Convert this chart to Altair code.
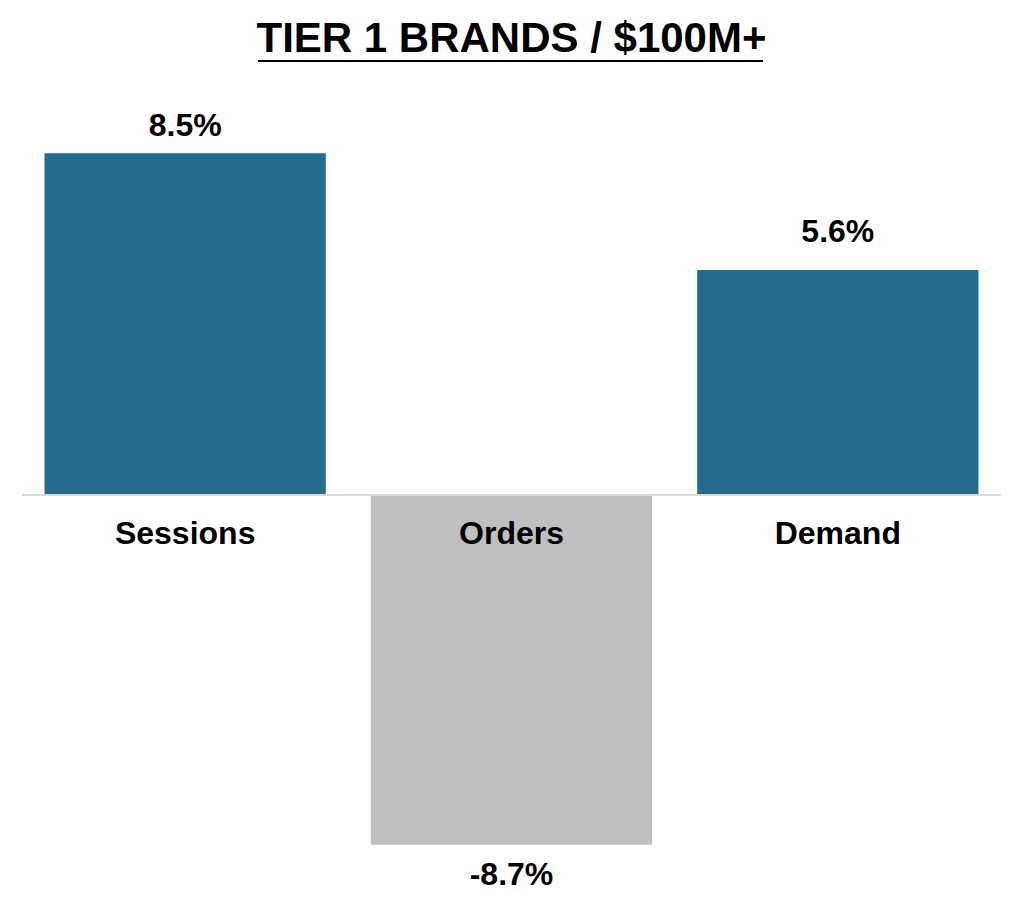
import altair as alt
import pandas as pd

categories = ["Sessions", "Orders", "Demand"]
values = [8.5, -8.7, 5.6]
value_labels = ["8.5%", "-8.7%", "5.6%"]
bar_colors = ["#246B8E", "#BFBFBF", "#246B8E"]

df = pd.DataFrame({"cat": categories, "val": values, "label": value_labels,
                   "color": bar_colors, "zero": [0, 0, 0]})

FONT = "Liberation Sans"
FS = 32

x = alt.X("cat:N", sort=categories, axis=None,
          scale=alt.Scale(paddingInner=0.138, paddingOuter=0.069))
yscale = alt.Scale(domain=[-10, 10], nice=False)
y_val = alt.Y("val:Q", axis=None, scale=yscale)
y_zero = alt.Y("zero:Q", axis=None, scale=yscale)

base = alt.Chart(df)

bars = base.mark_bar().encode(
    x=x, y=y_val,
    color=alt.Color("color:N", scale=None),
)

zero = base.mark_rule(color="#D9D9D9", strokeWidth=1.5).encode(y=y_zero)

# positive labels sit above the bar, kept inside the plot area near the top
pos_labels = base.transform_filter("datum.val >= 0").transform_calculate(
    ly="min(datum.val + 0.7, 8.93)"
).mark_text(
    font=FONT, fontSize=FS, fontWeight="bold", color="black",
    baseline="alphabetic",
).encode(x=x, y=alt.Y("ly:Q", axis=None, scale=yscale), text="label:N")

neg_labels = base.transform_filter("datum.val < 0").mark_text(
    font=FONT, fontSize=FS, fontWeight="bold", color="black",
    baseline="alphabetic", dy=40,
).encode(x=x, y=y_val, text="label:N")

cat_labels = base.mark_text(
    font=FONT, fontSize=FS, fontWeight="bold", color="black",
    baseline="alphabetic", dy=49,
).encode(x=x, y=y_zero, text="cat:N")

underline = base.transform_filter("datum.cat == 'Sessions'").mark_rule(
    color="black", strokeWidth=2
).encode(x=alt.value(236), x2=alt.value(741), y=alt.value(-32))

chart = alt.layer(bars, zero, pos_labels, neg_labels, cat_labels, underline).properties(
    width=979,
    height=804,
    background="white",
    title=alt.TitleParams(
        "TIER 1 BRANDS / $100M+",
        font=FONT, fontSize=42, fontWeight="bold", color="black",
        anchor="middle", baseline="alphabetic", offset=-34, frame="group",
    ),
    autosize=alt.AutoSizeParams(type="none"),
    padding={"left": 14, "top": 85, "right": 15, "bottom": 19},
).configure_view(stroke=None)

chart.save("out.html", embed_options={"renderer": "svg", "actions": False})
